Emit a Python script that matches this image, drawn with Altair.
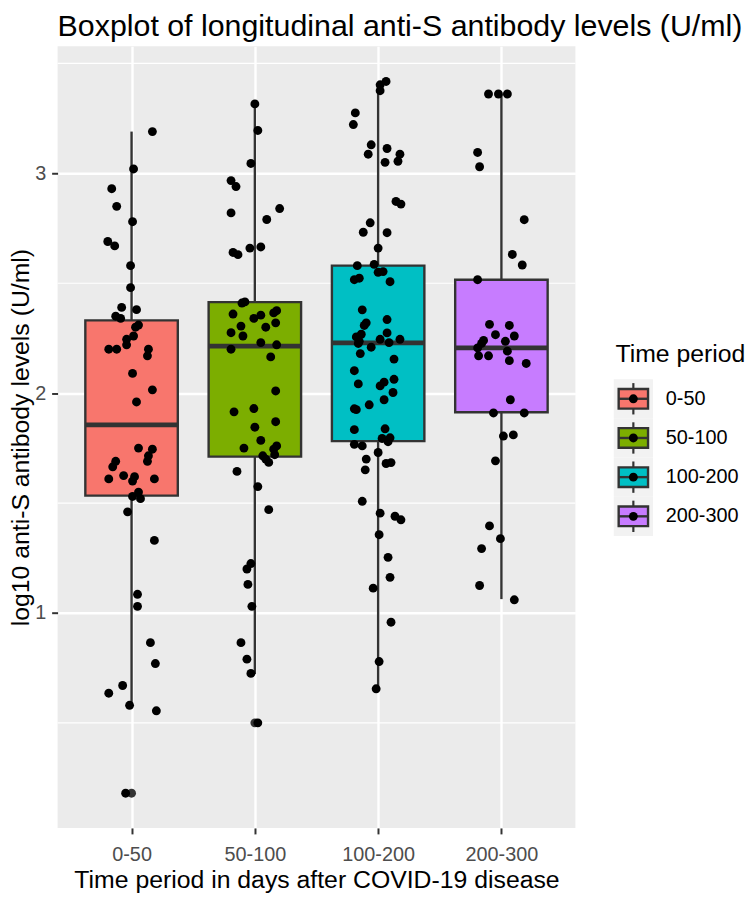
import json
import altair as alt
import pandas as pd

FONT = "Liberation Sans"

categories = ["0-50", "50-100", "100-200", "200-300"]
colors = ["#F8766D", "#7CAE00", "#00BFC4", "#C77CFF"]

# box statistics (log10 U/ml)
q1 = [1.534, 1.711, 1.782, 1.913]
median = [1.856, 2.214, 2.229, 2.206]
q3 = [2.331, 2.414, 2.580, 2.516]
whisker_low = [0.575, 0.722, 0.655, 1.063]
whisker_high = [3.19, 3.316, 3.41, 3.361]
outlier_cat = ["0-50", "50-100"]
outlier_val = [0.18, 0.50]

# jittered observations (value, horizontal jitter read in 1/124 of a category step)
vals_0_50 = [3.19, 3.02, 2.93, 2.85, 2.78, 2.69, 2.67, 2.58, 2.48, 2.39, 2.38, 2.35, 2.34, 2.31, 2.30,
             2.26, 2.245, 2.22, 2.20, 2.20, 2.20, 2.17, 2.09, 2.015, 1.96, 1.75, 1.745, 1.715, 1.69,
             1.69, 1.665, 1.61, 1.625, 1.62, 1.60, 1.61, 1.55, 1.53, 1.52, 1.46, 1.33, 1.085, 1.03,
             0.865, 0.77, 0.67, 0.635, 0.58, 0.555, 0.18]
jit_0_50 = [21, 2, -20, -15, 1, -24, -17, -1, -1, -10, 5, -16, -11, 7, 4,
            2, -5, -5, -23, -15, 17, 16, 1, 21, 5, 7, 21, 17, 16,
            -16, -19, -23, -8, 3, 1, 23, 7, 1, 9, -4, 23, 6, 6,
            19, 24, -9, -23, -2, 25, -6]

vals_50_100 = [3.316, 3.195, 3.045, 2.967, 2.94, 2.82, 2.84, 2.79, 2.66, 2.665, 2.64, 2.63, 2.41,
               2.415, 2.36, 2.34, 2.355, 2.365, 2.375, 2.32, 2.305, 2.30, 2.275, 2.26, 2.23, 2.22,
               2.20, 2.165, 2.01, 1.915, 1.93, 1.87, 1.845, 1.785, 1.75, 1.76, 1.745, 1.72, 1.715,
               1.70, 1.685, 1.644, 1.575, 1.47, 1.225, 1.20, 1.13, 1.03, 0.865, 0.79, 0.725, 0.50]
jit_50_100 = [0, 3, -4, -24, -19, -24, 25, 12, -5, 6, -22, -17, -13,
              -10, -22, -1, 6, 19, 22, 21, -14, 11, -24, -12, 6, 22,
              -24, 16, 21, -21, -1, 21, 0, 6, -11, 22, 19, 20, 8,
              11, 14, -18, 3, 14, -4, -8, -7, -3, -14, -8, -4, 3]

vals_100_200 = [3.418, 3.403, 3.376, 3.275, 3.222, 3.13, 3.113, 3.087, 3.087, 3.05, 3.055, 2.872,
                2.86, 2.775, 2.732, 2.73, 2.66, 2.586, 2.58, 2.55, 2.553, 2.516, 2.523, 2.507,
                2.379, 2.335, 2.32, 2.308, 2.274, 2.268, 2.256, 2.245, 2.245, 2.236, 2.226, 2.23,
                2.209, 2.18, 2.155, 2.102, 2.063, 2.042, 2.05, 2.033, 2.003, 1.97, 1.947, 1.929,
                1.925, 1.834, 1.838, 1.794, 1.797, 1.779, 1.767, 1.76, 1.73, 1.70, 1.651, 1.68,
                1.684, 1.508, 1.454, 1.44, 1.424, 1.356, 1.253, 1.162, 1.113, 0.958, 0.779, 0.655]
jit_100_200 = [8, 2, 2, -23, -25, -7, 9, -10, 22, 7, 20, 18,
               23, -8, -15, 9, 0, -4, -21, 0, 5, -24, -19, 12,
               -16, 9, -12, -14, 9, -17, -22, 2, 22, -19, -20, 11,
               -7, -18, 16, -24, 16, -20, 6, 2, 15, 6, -9, -24,
               -22, -24, 7, 4, 12, 10, -24, -16, 0, -12, -13, 8,
               13, -16, 2, 17, 23, 1, 10, 12, -5, 13, 1, -2]

vals_200_300 = [3.361, 3.361, 3.361, 3.095, 3.03, 2.789, 2.631, 2.583, 2.516, 2.313, 2.308, 2.266,
                2.26, 2.24, 2.236, 2.226, 2.206, 2.191, 2.17, 2.17, 2.148, 2.135, 1.97, 1.91, 1.91,
                1.805, 1.81, 1.692, 1.396, 1.338, 1.293, 1.125, 1.06]
jit_200_300 = [-13, -3, 6, -24, -22, 23, 11, 21, -24, -12, 8, -6,
               13, -18, 4, -20, -24, 6, -23, -13, 8, 25, 9, -8, 23,
               2, 12, -6, -12, -1, -20, -22, 13]

y_major = [1, 2, 3]
y_minor = [0.5, 1.5, 2.5, 3.5]

JIT_STEP = 124.3
BOX_W = 0.75
PT_SIZE = 80

values = [vals_0_50, vals_50_100, vals_100_200, vals_200_300]
jitters = [jit_0_50, jit_50_100, jit_100_200, jit_200_300]

rows = []
for i, c in enumerate(categories):
    for v, j in zip(values[i], jitters[i]):
        rows.append({"cat": c, "xj": i + 1 + j / JIT_STEP, "value": v})
pts = pd.DataFrame(rows)

pos = [i + 1 for i in range(len(categories))]
box = pd.DataFrame({
    "cat": categories, "pos": pos,
    "left": [p - BOX_W / 2 for p in pos], "right": [p + BOX_W / 2 for p in pos],
    "q1": q1, "med": median, "q3": q3, "lo": whisker_low, "hi": whisker_high,
})
outl = pd.DataFrame({"pos": [categories.index(c) + 1 for c in outlier_cat], "value": outlier_val})

xscale = alt.Scale(domain=[0.4, 4.6], nice=False, zero=False)
yscale = alt.Scale(domain=[0.022, 3.578], nice=False, zero=False)
cscale = alt.Scale(domain=categories, range=colors)

common_axis = dict(domain=False, tickColor="#333333", tickWidth=2, tickSize=6,
                   labelColor="#4D4D4D", labelFontSize=20, labelFont=FONT,
                   titleFont=FONT, titleFontSize=25, titleFontWeight="normal", titleColor="black",
                   grid=True, gridColor="white", gridWidth=2.4)
x_axis = alt.Axis(values=pos, labelExpr=json.dumps(categories) + "[datum.value - 1]",
                  title="Time period in days after COVID-19 disease", labelPadding=11,
                  titlePadding=3, **common_axis)
y_axis = alt.Axis(values=y_major, format="d", title="log10 anti-S antibody levels (U/ml)",
                  labelPadding=6, titlePadding=1, **common_axis)


def X(f):
    return alt.X(f, type="quantitative", scale=xscale, axis=x_axis)


def Y(f):
    return alt.Y(f, type="quantitative", scale=yscale, axis=y_axis)


minor = alt.Chart(pd.DataFrame({"m": y_minor})).mark_rule(color="white", strokeWidth=1.2).encode(y=Y("m"))
base = alt.Chart(box)
upper = base.mark_rule(color="#333333", strokeWidth=2.4).encode(x=X("pos"), y=Y("q3"), y2="hi")
lower = base.mark_rule(color="#333333", strokeWidth=2.4).encode(x=X("pos"), y=Y("lo"), y2="q1")
rect = base.mark_rect(stroke="#333333", strokeWidth=2.4).encode(
    x=X("left"), x2="right", y=Y("q1"), y2="q3",
    color=alt.Color("cat:N", scale=cscale, legend=None))
med = base.mark_rule(color="#333333", strokeWidth=4.9, strokeCap="butt").encode(
    x=X("left"), x2="right", y=Y("med"))
out_pts = alt.Chart(outl).mark_circle(color="#333333", opacity=1, size=PT_SIZE).encode(x=X("pos"), y=Y("value"))
jit_pts = alt.Chart(pts).mark_circle(color="black", opacity=1, size=PT_SIZE).encode(x=X("xj"), y=Y("value"))

main = alt.layer(minor, upper, lower, rect, med, out_pts, jit_pts)

# legend (drawn in key units, key size = 1)
leg = pd.DataFrame({"cat": categories, "k": list(range(len(categories)))})
leg["top"] = leg["k"]
leg["bot"] = leg["k"] + 1
leg["wt0"] = leg["k"] + 0.1
leg["bt"] = leg["k"] + 0.25
leg["mid"] = leg["k"] + 0.5
leg["bb"] = leg["k"] + 0.75
leg["wb1"] = leg["k"] + 0.9
leg["x0"] = 0.0
leg["x1"] = 1.0
leg["bx0"] = 0.125
leg["bx1"] = 0.875
leg["xc"] = 0.5
leg["xl"] = 1.327

lx = alt.Scale(domain=[-14.20, -0.98], nice=False, zero=False)
ly = alt.Scale(domain=[-8.496, 11.453], reverse=True, nice=False, zero=False)


def LX(f):
    return alt.X(f, type="quantitative", scale=lx, axis=None)


def LY(f):
    return alt.Y(f, type="quantitative", scale=ly, axis=None)


lb = alt.Chart(leg)
l_bg = lb.mark_rect(fill="#F2F2F2").encode(x=LX("x0"), x2="x1", y=LY("top"), y2="bot")
l_w1 = lb.mark_rule(color="#333333", strokeWidth=2.2).encode(x=LX("xc"), y=LY("wt0"), y2="bt")
l_w2 = lb.mark_rule(color="#333333", strokeWidth=2.2).encode(x=LX("xc"), y=LY("bb"), y2="wb1")
l_box = lb.mark_rect(stroke="#333333", strokeWidth=2.4).encode(
    x=LX("bx0"), x2="bx1", y=LY("bt"), y2="bb",
    color=alt.Color("cat:N", scale=cscale, legend=None))
l_med = lb.mark_rule(color="#333333", strokeWidth=2.4).encode(x=LX("bx0"), x2="bx1", y=LY("mid"))
l_pt = lb.mark_circle(color="black", opacity=1, size=PT_SIZE).encode(x=LX("xc"), y=LY("mid"))
l_txt = lb.mark_text(align="left", baseline="middle", font=FONT, fontSize=20, color="black").encode(
    x=LX("xl"), y=LY("mid"), text="cat:N")
l_title = alt.Chart(pd.DataFrame({"t": ["Time period"], "x": [0.043], "y": [-0.43]})).mark_text(
    align="left", baseline="alphabetic", font=FONT, fontSize=25, color="black").encode(
    x=LX("x"), y=LY("y"), text="t:N")

legend = alt.layer(l_bg, l_w1, l_w2, l_box, l_med, l_pt, l_txt, l_title)

chart = alt.layer(main, legend).resolve_scale(x="independent", y="independent").properties(
    width=522, height=788,
    padding={"left": 0, "top": 0, "right": 0, "bottom": 0},
    title=alt.TitleParams("Boxplot of longitudinal anti-S antibody levels (U/ml)", font=FONT,
                          fontSize=30.6, fontWeight="normal", color="black", anchor="start",
                          frame="group", offset=4),
).configure(background="white", view=alt.ViewConfig(fill="#EBEBEB", stroke=None))

chart.save("out.html", embed_options={"renderer": "svg", "actions": False})
